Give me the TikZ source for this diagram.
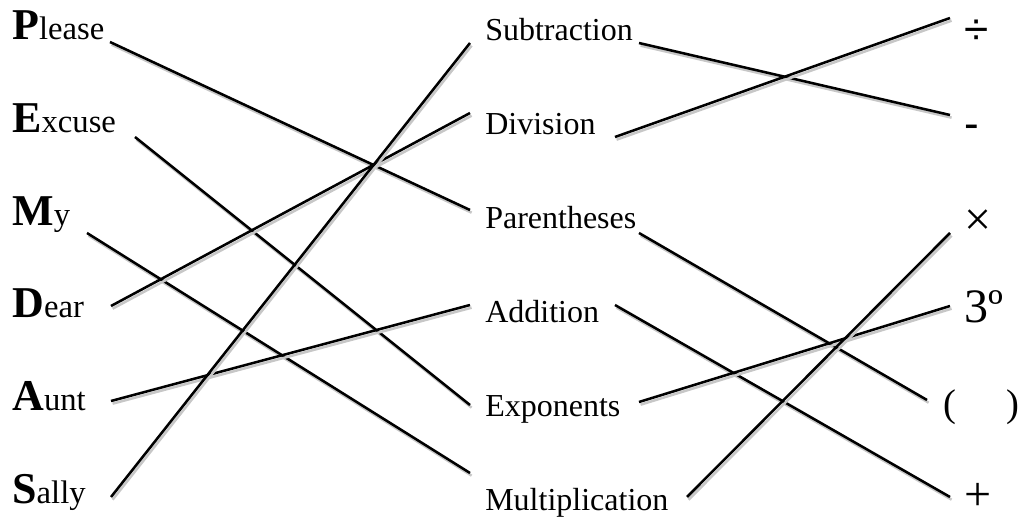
\documentclass[tikz,border=0pt]{standalone}
\usepackage{fontspec}
\setmainfont{Liberation Serif}
\newfontfamily\symsans{Liberation Sans}
\usetikzlibrary{positioning}

\newcommand{\firstletter}[1]{{\fontsize{33}{36}\selectfont\bfseries #1}}

\begin{document}
\begin{tikzpicture}
	[x=0.75pt, y=-0.75pt, inner sep=0pt,
	 word/.style = {font=\fontsize{24.5}{26}\selectfont, anchor=base west},
	 op/.style = {font=\fontsize{24}{28}\selectfont, anchor=base west},
	 sym/.style = {font=\fontsize{36}{40}\selectfont, anchor=base west},
	 shade/.style = {draw=black!22, line width=1.9pt, transform canvas={shift={(1.2pt,-2pt)}}},
	 link/.style = {line width=1.9pt, preaction={shade}}]
	\useasboundingbox (0,0) rectangle (1021,520);
	% left column
	\node[word] (please) at (12,40) {\firstletter{P}lease};
	\node[below=69.45pt of please.base west, word] (excuse) {\firstletter{E}xcuse};
	\node[below=69.45pt of excuse.base west, word] (my) {\firstletter{M}y};
	\node[below=69.45pt of my.base west, word] (dear) {\firstletter{D}ear};
	\node[below=69.45pt of dear.base west, word] (aunt) {\firstletter{A}unt};
	\node[below=69.45pt of aunt.base west, word] (sally) {\firstletter{S}ally};
	% middle column
	\node[op] (sub) at (485,41) {Subtraction};
	\node[below=70.35pt of sub.base west, op] (div) {Division};
	\node[below=70.35pt of div.base west, op] (par) {Parentheses};
	\node[below=70.35pt of par.base west, op] (add) {Addition};
	\node[below=70.35pt of add.base west, op] (exp) {Exponents};
	\node[below=70.35pt of exp.base west, op] (mult) {Multiplication};
	% right column
	\node[sym, font=\fontsize{33}{36}\symsans] (divsign) at (964,45) {÷};
	\node[below=70.35pt of divsign.base west, sym, font=\fontsize{33}{36}\symsans] (minus) {-};
	\node[below=72.35pt of minus.base west, sym] (times) {×};
	\node[below=65.35pt of times.base west, sym] (three) {3º};
	\node[below=70.35pt of three.base west, xshift=-15.75pt, sym, font=\fontsize{29}{32}\selectfont] (parens) {(\hspace{38pt})};
	\node[below=70.35pt of three.base west, sym, yshift=-70.35pt] (plus) {+};
	% connectors
	\draw[link] ([shift={(98,2)}]please.base west) -- ([shift={(-15,-18.6)}]par.base west);
	\draw[link] ([shift={(123,4.4)}]excuse.base west) -- ([shift={(-15,-11.2)}]exp.base west);
	\draw[link] ([shift={(75,7.8)}]my.base west) -- ([shift={(-15,-37)}]mult.base west);
	\draw[link] ([shift={(99,-11.8)}]dear.base west) -- ([shift={(-15,-21.8)}]div.base west);
	\draw[link] ([shift={(99,-9.4)}]aunt.base west) -- ([shift={(-15,-17.4)}]add.base west);
	\draw[link] ([shift={(99,-6)}]sally.base west) -- ([shift={(-15,2)}]sub.base west);
	\draw[link] ([shift={(154,2)}]sub.base west) -- ([shift={(-14,-23.8)}]minus.base west);
	\draw[link] ([shift={(130,2.2)}]div.base west) -- ([shift={(-14,-27)}]divsign.base west);
	\draw[link] ([shift={(154,4.4)}]par.base west) -- ([shift={(-16,-16.2)}]parens.base west);
	\draw[link] ([shift={(130,-17.4)}]add.base west) -- ([shift={(-14,-13)}]plus.base west);
	\draw[link] ([shift={(154,-14.2)}]exp.base west) -- ([shift={(-14,-16.4)}]three.base west);
	\draw[link] ([shift={(202,-13)}]mult.base west) -- ([shift={(-14,-2.3)}]times.base west);
\end{tikzpicture}
\end{document}
